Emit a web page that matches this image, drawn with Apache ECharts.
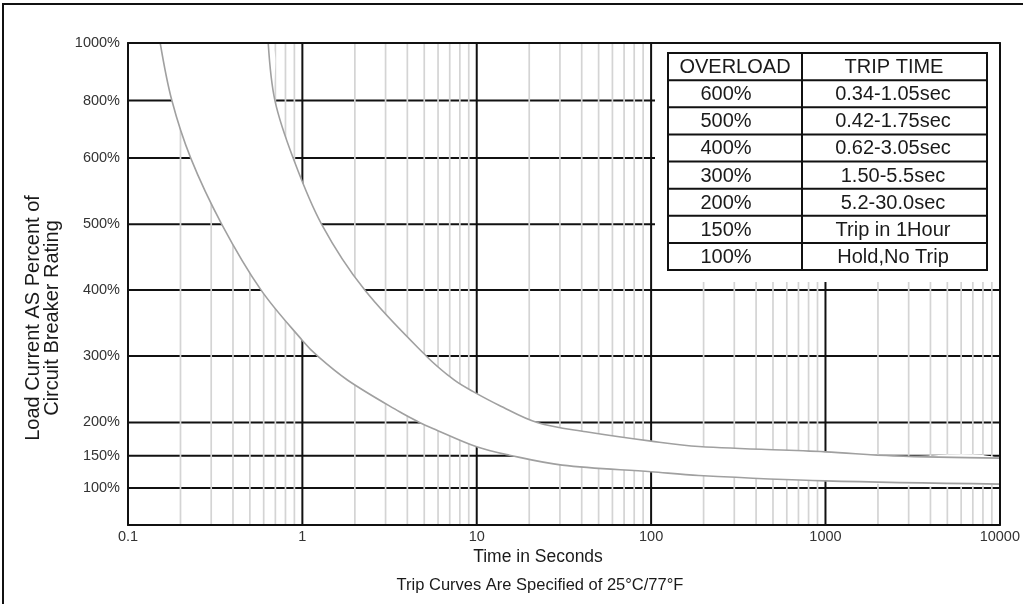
<!DOCTYPE html>
<html><head><meta charset="utf-8">
<script src="https://cdn.jsdelivr.net/npm/echarts@6/dist/echarts.min.js"></script>
<style>html,body{margin:0;padding:0;background:#fff}#c{width:1023px;height:604px}</style>
</head><body><div id="c"></div>
<script>
// ---- axis ticks ----
const xTickValues = [0.1, 1, 10, 100, 1000, 10000];
const xTickLabels = ['0.1', '1', '10', '100', '1000', '10000'];
const xMajorLines = [1, 10, 100, 1000];
const xDecades = [0.1, 1, 10, 100, 1000];
const xMinorSteps = [2, 3, 4, 5, 6, 7, 8, 9];
const yTickPct = [100, 150, 200, 300, 400, 500, 600, 800, 1000];
const yTickLabels = ['100%', '150%', '200%', '300%', '400%', '500%', '600%', '800%', '1000%'];
// the original chart's non-uniform vertical scale (axis units for each tick)
const yScaleUnits = [1.12, 2.09, 3.10, 5.11, 7.10, 9.09, 11.09, 12.83, 14.57];

// ---- trip curves (percent load vs. seconds) ----
const lowerPct = [1000, 800, 600, 500, 400, 323.6, 300, 263.5, 216, 200, 191, 163.5, 151, 135.6, 125.2, 119.5, 111, 106];
const lowerSec = [0.153, 0.1785, 0.229, 0.345, 0.58, 1.0, 1.22, 1.82, 3.61, 4.7, 5.6, 10, 15.4, 30.9, 100, 188, 1000, 10000];
const upperPct = [1000, 800, 600, 500, 400, 300, 263.5, 246, 226, 200, 186, 172, 164, 156, 150, 146.5];
const upperSec = [0.637, 0.696, 0.886, 1.29, 2.28, 5.13, 7.45, 9.6, 13.4, 22.2, 42.3, 100, 188, 1000, 2455, 10000];

// ---- table ----
const tableHead = ['OVERLOAD', 'TRIP TIME'];
const tableOverload = ['600%', '500%', '400%', '300%', '200%', '150%', '100%'];
const tableTrip = ['0.34-1.05sec', '0.42-1.75sec', '0.62-3.05sec', '1.50-5.5sec', '5.2-30.0sec', 'Trip in 1Hour', 'Hold,No Trip'];

const xTitle = 'Time in Seconds';
const subTitle = 'Trip Curves Are Specified of 25°C/77°F';
const yTitle = 'Load Current AS Percent of\nCircuit Breaker Rating';

const FONT = '"Liberation Sans", Arial, sans-serif';
const Y_MAX = yScaleUnits[yScaleUnits.length - 1];
const SMOOTH = 0.35;

function yPos(p) {
  for (let i = 0; i < yTickPct.length - 1; i++) {
    if (p <= yTickPct[i + 1] || i === yTickPct.length - 2) {
      const a = yTickPct[i], b = yTickPct[i + 1];
      return yScaleUnits[i] + (p - a) / (b - a) * (yScaleUnits[i + 1] - yScaleUnits[i]);
    }
  }
}

// gridline items: [x, y, kind]  kind 0=horizontal, 1=major vertical, 2=minor vertical
const gridItems = [];
yTickPct.forEach(p => gridItems.push([1, yPos(p), 0]));
xDecades.forEach(d => xMinorSteps.forEach(m => gridItems.push([+(d * m).toPrecision(6), 0, 2])));
xMajorLines.forEach(v => gridItems.push([v, 0, 1]));

const chart = echarts.init(document.getElementById('c'));

const tableX0 = 668, tableX1 = 987, tableXm = 802, tableY0 = 53, tableY1 = 270;
const rowH = (tableY1 - tableY0) / 8;
const tableEls = [];
tableEls.push({ type: 'rect', z: 20, shape: { x: 655, y: 43, width: 347, height: 239 }, style: { fill: '#fff' } });
tableEls.push({ type: 'rect', z: 21, shape: { x: tableX0, y: tableY0, width: tableX1 - tableX0, height: tableY1 - tableY0 }, style: { fill: 'none', stroke: '#111', lineWidth: 2 } });
tableEls.push({ type: 'line', z: 21, shape: { x1: tableXm, y1: tableY0, x2: tableXm, y2: tableY1 }, style: { stroke: '#111', lineWidth: 2 } });
for (let i = 1; i < 8; i++) {
  const y = tableY0 + rowH * i;
  tableEls.push({ type: 'line', z: 21, shape: { x1: tableX0, y1: y, x2: tableX1, y2: y }, style: { stroke: '#111', lineWidth: 2 } });
}
const cellStyle = (t, x, y) => ({ type: 'text', z: 22, x: x, y: y, style: { text: t, fill: '#1a1a1a', font: '20px ' + FONT, align: 'center', verticalAlign: 'middle' } });
tableEls.push(cellStyle(tableHead[0], 735, tableY0 + rowH / 2 + 1));
tableEls.push(cellStyle(tableHead[1], 894, tableY0 + rowH / 2 + 1));
tableOverload.forEach((t, i) => tableEls.push(cellStyle(t, 726, tableY0 + rowH * (i + 1.5) + 1)));
tableTrip.forEach((t, i) => tableEls.push(cellStyle(t, 893, tableY0 + rowH * (i + 1.5) + 1)));

const option = {
  animation: false,
  backgroundColor: '#fff',
  grid: { left: 128, right: 21, top: 43, bottom: 79, containLabel: false },
  xAxis: [{
    type: 'log', logBase: 10, min: 0.1, max: 10000, position: 'bottom', z: 30,
    axisLine: { show: true, onZero: false, lineStyle: { color: '#111', width: 2 } },
    axisTick: { show: false }, splitLine: { show: false },
    axisLabel: {
      customValues: xTickValues, color: '#333', fontSize: 14.5, fontFamily: FONT, margin: 4,
      formatter: v => { const i = xTickValues.findIndex(t => Math.abs(v - t) / t < 1e-6); return i >= 0 ? xTickLabels[i] : ''; }
    }
  }, {
    type: 'log', logBase: 10, min: 0.1, max: 10000, position: 'top', z: 30,
    axisLine: { show: true, onZero: false, lineStyle: { color: '#111', width: 2 } },
    axisTick: { show: false }, splitLine: { show: false }, axisLabel: { show: false }
  }],
  yAxis: [{
    type: 'value', min: 0, max: Y_MAX, position: 'left', z: 30,
    axisLine: { show: true, onZero: false, lineStyle: { color: '#111', width: 2 } },
    axisTick: { show: false }, splitLine: { show: false },
    axisLabel: {
      customValues: yTickPct.map(yPos), color: '#333', fontSize: 14.5, fontFamily: FONT, margin: 8,
      formatter: v => { const i = yTickPct.findIndex(p => Math.abs(yPos(p) - v) < 1e-6); return i >= 0 ? yTickLabels[i] : ''; }
    }
  }, {
    type: 'value', min: 0, max: Y_MAX, position: 'right', z: 30,
    axisLine: { show: true, onZero: false, lineStyle: { color: '#111', width: 2 } },
    axisTick: { show: false }, splitLine: { show: false }, axisLabel: { show: false }
  }],
  series: [{
    type: 'custom', z: 1, silent: true, clip: true,
    data: gridItems,
    renderItem: (params, api) => {
      const cs = params.coordSys;
      const kind = api.value(2);
      if (kind === 0) {
        const y = api.coord([1, api.value(1)])[1];
        return { type: 'line', shape: { x1: cs.x, y1: y, x2: cs.x + cs.width, y2: y }, style: { stroke: '#111', lineWidth: 2 } };
      }
      const x = api.coord([api.value(0), 0])[0];
      return { type: 'line', shape: { x1: x, y1: cs.y, x2: x, y2: cs.y + cs.height },
        style: kind === 1 ? { stroke: '#111', lineWidth: 2 } : { stroke: '#d4d4d4', lineWidth: 1.7 } };
    }
  }, {
    type: 'custom', z: 2, silent: true, clip: true,
    data: [[1, 1]],
    renderItem: (params, api) => {
      const lo = lowerSec.map((t, i) => api.coord([t, yPos(lowerPct[i])]));
      const up = upperSec.map((t, i) => api.coord([t, yPos(upperPct[i])]));
      const poly = lo.concat(up.slice().reverse());
      return {
        type: 'group', children: [
          { type: 'polygon', shape: { points: poly, smooth: SMOOTH }, style: { fill: '#fff', stroke: 'none' } },
          { type: 'polyline', shape: { points: lo, smooth: SMOOTH }, style: { fill: 'none', stroke: '#a0a0a0', lineWidth: 1.6 } },
          { type: 'polyline', shape: { points: up, smooth: SMOOTH }, style: { fill: 'none', stroke: '#a0a0a0', lineWidth: 1.6 } }
        ]
      };
    }
  }],
  graphic: [
    { type: 'polyline', z: 40, shape: { points: [[3, 610], [3, 4], [1030, 4]] }, style: { fill: 'none', stroke: '#111', lineWidth: 2 } },
    { type: 'group', z: 20, children: tableEls },
    { type: 'text', x: 538, y: 557, style: { text: xTitle, fill: '#1a1a1a', font: '17.5px ' + FONT, align: 'center', verticalAlign: 'middle' } },
    { type: 'text', x: 540, y: 585, style: { text: subTitle, fill: '#1a1a1a', font: '16.5px ' + FONT, align: 'center', verticalAlign: 'middle' } },
    { type: 'text', x: 43, y: 318, rotation: Math.PI / 2, style: { text: yTitle, fill: '#1a1a1a', font: '20px ' + FONT, align: 'center', verticalAlign: 'middle', lineHeight: 19 } }
  ]
};
chart.setOption(option);
</script>
</body></html>
